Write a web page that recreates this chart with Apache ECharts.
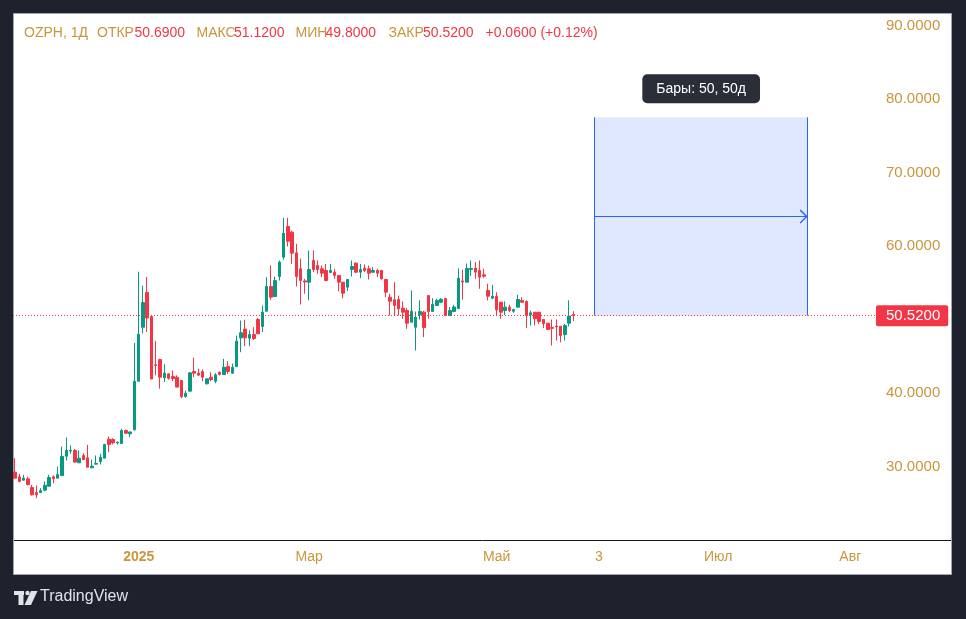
<!DOCTYPE html>
<html>

<head>
    <meta charset="UTF-8">
    <title>OZPH, 1Д</title>
    <style>
        html, body { margin: 0; padding: 0; background: #1e222d; }
        #container { width: 966px; height: 619px; }
    </style>
</head>

<body>
    <div id="container"></div>
    <script src="https://cdn.jsdelivr.net/npm/echarts@6/dist/echarts.min.js"></script>
    <script type="text/javascript">
        // дневные свечи OZPH
        var opens = [29.23, 28.6, 28.14, 28.32, 27.14, 26.46, 26.46, 26.78, 27.32, 28.59,
            28.41, 28.78, 31.4, 32.1, 32.18, 30.5, 31.5, 31.18, 29.82, 30.32,
            30.68, 31.13, 33.71, 33.67, 33.2, 33.13, 34.9, 34.45, 35.0, 41.6,
            48.95, 53.7, 50.4, 43.85, 44.55, 42.06, 42.6, 42.25, 42.15, 41.7,
            39.52, 40.25, 42.92, 42.7, 42.92, 41.25, 42.15, 41.6, 42.83, 42.52,
            43.6, 42.7, 43.6, 47.5, 48.7, 47.46, 47.96, 50.0, 49.05, 51.13,
            54.5, 53.13, 55.85, 58.48, 62.65, 61.88, 59.07, 56.9, 55.25, 55.08,
            58.03, 57.35, 56.9, 56.67, 56.4, 56.44, 56.0, 55.08, 54.4, 56.8,
            57.66, 56.44, 56.98, 56.9, 56.44, 56.67, 56.67, 55.44, 53.03, 52.68,
            52.72, 51.54, 51.22, 49.63, 48.95, 50.65, 51.0, 53.26, 51.1, 51.9,
            52.35, 52.85, 50.54, 51.1, 51.5, 55.25, 55.08, 56.8, 56.98, 56.67,
            56.08, 53.95, 52.9, 53.15, 52.35, 51.22, 51.68, 51.13, 51.68, 52.59,
            52.45, 50.64, 50.99, 50.99, 50.0, 49.5, 48.9, 49.1, 49.09, 47.96,
            49.5, 50.69];
        var closes = [28.41, 27.96, 28.41, 27.55, 26.15, 26.15, 26.73, 27.45, 28.5, 28.32,
            28.91, 31.36, 32.18, 32.2, 30.6, 31.13, 30.95, 29.91, 30.05, 30.41,
            31.27, 32.99, 32.99, 33.22, 33.3, 34.9, 34.53, 34.7, 41.6, 48.0,
            52.3, 50.2, 41.9, 43.75, 42.15, 42.7, 42.0, 41.97, 40.8, 39.5,
            39.98, 42.74, 42.7, 42.43, 42.15, 41.93, 41.84, 42.47, 42.52, 43.5,
            42.92, 43.5, 47.05, 48.2, 47.5, 47.96, 47.41, 48.05, 51.0, 54.49,
            53.04, 55.3, 57.8, 61.74, 60.65, 59.03, 55.85, 55.3, 55.1, 56.8,
            56.8, 56.8, 56.3, 55.31, 56.67, 56.0, 55.08, 53.58, 55.44, 57.21,
            56.44, 56.8, 56.67, 56.3, 56.67, 56.3, 55.53, 53.72, 52.49, 51.9,
            51.45, 50.99, 49.5, 51.13, 50.3, 51.1, 48.9, 51.1, 52.04, 52.6,
            52.75, 50.54, 51.22, 51.7, 55.62, 55.1, 56.95, 56.95, 56.44, 55.76,
            55.9, 53.17, 53.15, 51.3, 51.0, 51.68, 51.22, 51.36, 52.72, 52.35,
            50.54, 50.91, 50.1, 49.73, 49.41, 48.64, 48.8, 49.0, 47.82, 49.18,
            50.46, 50.52];
        var lows = [28.41, 27.86, 28.1, 27.41, 26.05, 25.7, 26.46, 26.64, 27.32, 27.73,
            28.41, 28.78, 30.82, 31.72, 30.5, 30.5, 30.9, 29.91, 29.82, 30.27,
            30.27, 31.13, 31.95, 33.0, 33.0, 33.13, 34.4, 34.0, 34.9, 41.6,
            48.1, 48.3, 41.9, 42.4, 40.6, 41.5, 41.8, 41.6, 40.8, 39.3,
            39.34, 40.25, 42.15, 42.38, 41.6, 41.15, 41.6, 41.33, 42.38, 42.52,
            42.6, 42.6, 43.5, 45.55, 46.4, 46.4, 47.2, 48.05, 48.3, 51.13,
            52.68, 53.13, 55.3, 58.12, 59.93, 57.57, 54.49, 52.04, 53.5, 52.6,
            56.44, 56.2, 55.76, 55.2, 56.3, 55.53, 53.85, 52.9, 53.85, 55.85,
            56.3, 55.62, 56.44, 55.44, 56.3, 55.76, 55.44, 53.03, 50.54, 50.54,
            50.54, 50.1, 48.73, 49.6, 45.78, 50.0, 47.6, 50.1, 51.1, 51.9,
            52.3, 50.5, 50.5, 51.0, 51.45, 52.7, 55.08, 55.9, 55.53, 54.17,
            55.67, 52.59, 52.75, 50.6, 50.1, 50.6, 51.0, 50.9, 51.68, 52.35,
            48.82, 49.18, 49.18, 49.41, 48.82, 48.6, 46.46, 47.14, 46.9, 47.14,
            49.05, 49.8];
        var highs = [31.13, 29.0, 28.87, 28.59, 27.5, 27.41, 27.05, 27.96, 28.87, 28.78,
            30.0, 32.72, 33.95, 32.86, 32.4, 32.18, 31.81, 32.95, 30.95, 31.5,
            31.72, 33.1, 34.08, 33.85, 33.4, 35.13, 35.0, 34.75, 46.8, 56.5,
            54.6, 55.8, 50.4, 47.1, 44.65, 43.9, 42.7, 43.06, 42.4, 41.7,
            40.34, 42.83, 44.8, 43.3, 43.2, 41.93, 42.83, 42.7, 42.92, 44.65,
            44.33, 44.0, 47.8, 49.86, 49.96, 48.5, 48.95, 50.23, 51.9, 55.76,
            57.35, 55.85, 58.03, 63.83, 63.83, 62.1, 60.3, 58.26, 55.53, 59.39,
            59.4, 58.03, 57.35, 57.57, 57.57, 56.9, 56.0, 55.1, 55.53, 58.03,
            57.8, 57.57, 57.48, 57.35, 57.12, 56.9, 56.76, 55.44, 53.5, 55.08,
            53.26, 52.45, 51.54, 53.95, 51.09, 52.6, 51.2, 53.3, 52.9, 52.8,
            52.9, 52.9, 51.7, 52.0, 56.95, 56.8, 57.6, 58.03, 57.8, 58.03,
            56.9, 54.86, 54.74, 53.7, 52.4, 52.45, 52.0, 51.45, 53.36, 53.03,
            52.59, 51.22, 51.0, 51.0, 50.0, 49.5, 50.0, 50.0, 49.1, 49.41,
            52.6, 51.12];

        var slotCount = 203; // свечи + будущие дни до конца шкалы
        var timeLabels = { 29: '2025', 69: 'Мар', 113: 'Май', 137: '3', 165: 'Июл', 196: 'Авг' };
        var priceTicks = [30, 40, 50, 60, 70, 80, 90];

        // инструмент "диапазон дат"
        var rangeStart = 136, rangeEnd = 186, rangeTop = 77.5, arrowLevel = 64;

        var gold = '#c8963c';
        var red = '#f23645';
        var green = '#089981';
        var blue = '#2962ff';
        var font = '"Liberation Sans", Arial, sans-serif';

        var slots = [];
        for (var i = 0; i < slotCount; i++) slots.push(String(i));

        var candles = opens.map(function (o, k) {
            return [o, closes[k], lows[k], highs[k]];
        });

        var n = opens.length - 1;
        var last = closes[n];
        var change = last - closes[n - 1];
        var pct = change / closes[n - 1] * 100;
        var bars = rangeEnd - rangeStart;

        // заголовок (позиции подогнаны по картинке)
        var header = [
            [24, 'OZPH, 1Д', gold],
            [97, 'ОТКР', gold], [134.5, opens[n].toFixed(4), red],
            [196.5, 'МАКС', gold], [234, highs[n].toFixed(4), red],
            [295.5, 'МИН', gold], [325.5, lows[n].toFixed(4), red],
            [388.5, 'ЗАКР', gold], [423, last.toFixed(4), red],
            [485.5, '+' + change.toFixed(4) + ' (+' + pct.toFixed(2) + '%)', red]
        ];

        var graphics = [{
            type: 'rect', z: -10, silent: true,
            shape: { x: 13.5, y: 13.5, width: 938, height: 561 },
            style: { fill: '#ffffff', stroke: '#a3a6af', lineWidth: 1 }
        }, {
            type: 'line', silent: true,
            shape: { x1: 14, y1: 540.5, x2: 951, y2: 540.5 },
            style: { stroke: '#131722', lineWidth: 1 }
        }];
        header.forEach(function (h) {
            graphics.push({
                type: 'text', left: h[0], top: 26, silent: true,
                style: { text: h[1], fill: h[2], font: '14px ' + font }
            });
        });
        // логотип TradingView
        var logo = '#e0e3eb';
        graphics.push(
            { type: 'rect', shape: { x: 14, y: 591, width: 10, height: 4 }, style: { fill: logo } },
            { type: 'rect', shape: { x: 18.5, y: 591, width: 5, height: 14 }, style: { fill: logo } },
            { type: 'circle', shape: { cx: 27.5, cy: 593, r: 2.2 }, style: { fill: logo } },
            { type: 'polygon', shape: { points: [[31, 591], [37.5, 591], [31, 605], [24.5, 605]] }, style: { fill: logo } },
            { type: 'text', left: 40, top: 589, style: { text: 'TradingView', fill: logo, font: '500 16px ' + font } }
        );

        var myChart = echarts.init(document.getElementById('container'));
        var option = {
            animation: false,
            backgroundColor: '#1e222d',
            graphic: graphics,
            grid: { left: 13, right: 88, top: 13, bottom: 79 },
            xAxis: {
                type: 'category',
                data: slots,
                boundaryGap: true,
                axisLine: { show: false },
                axisTick: { show: false },
                splitLine: { show: false },
                axisLabel: {
                    interval: function (idx) { return timeLabels[idx] !== undefined; },
                    formatter: function (v, idx) {
                        var t = timeLabels[idx] || '';
                        return t === '2025' ? '{b|' + t + '}' : t;
                    },
                    color: gold,
                    fontSize: 14,
                    fontFamily: font,
                    margin: 10,
                    rich: { b: { fontWeight: 'bold', fontSize: 14, color: gold, fontFamily: font } }
                }
            },
            yAxis: {
                type: 'value',
                position: 'right',
                min: 20,
                max: 91.7,
                interval: 10,
                axisLine: { show: false },
                axisTick: { show: false },
                splitLine: { show: false },
                axisLabel: {
                    color: gold,
                    fontSize: 15,
                    fontFamily: font,
                    margin: 8,
                    showMinLabel: false,
                    showMaxLabel: false,
                    formatter: function (v) {
                        return priceTicks.indexOf(Math.round(v)) >= 0 && Math.abs(v - Math.round(v)) < 1e-6 ? v.toFixed(4) : '';
                    }
                }
            },
            series: [{
                type: 'candlestick',
                data: candles,
                barWidth: 3,
                itemStyle: {
                    color: green,
                    color0: red,
                    borderColor: green,
                    borderColor0: red,
                    borderWidth: 1
                },
                markArea: {
                    silent: true,
                    itemStyle: { color: 'rgba(41,98,255,0.15)' },
                    data: [[{ xAxis: rangeStart, yAxis: rangeTop }, { xAxis: rangeEnd, yAxis: last }]]
                },
                markLine: {
                    silent: true,
                    symbol: 'none',
                    label: { show: false },
                    data: [
                        {
                            yAxis: last,
                            lineStyle: { color: red, type: [1, 2], width: 1 },
                            label: {
                                show: true,
                                position: 'end',
                                distance: -2,
                                formatter: last.toFixed(4),
                                color: '#ffffff',
                                backgroundColor: red,
                                fontSize: 15,
                                fontFamily: font,
                                lineHeight: 15,
                                padding: [3, 8, 3, 10],
                                borderRadius: 2
                            }
                        },
                        [{ coord: [rangeStart, rangeTop], lineStyle: { color: blue, type: 'solid', width: 1 } },
                         { coord: [rangeStart, last] }],
                        [{ coord: [rangeEnd, rangeTop], lineStyle: { color: blue, type: 'solid', width: 1 } },
                         { coord: [rangeEnd, last] }],
                        [{ coord: [rangeStart, arrowLevel], symbol: 'none', lineStyle: { color: blue, type: 'solid', width: 1 } },
                         { coord: [rangeEnd, arrowLevel], symbol: 'path://M7,0 L14,8 L12.8,9 L7,2.2 L1.2,9 L0,8 Z', symbolSize: [14, 8], symbolOffset: [0, 4] }]
                    ]
                },
                markPoint: {
                    silent: true,
                    data: [{
                        coord: [Math.round((rangeStart + rangeEnd) / 2), 81.4],
                        symbol: 'rect',
                        symbolSize: 1,
                        itemStyle: { color: 'rgba(0,0,0,0)' },
                        label: {
                            show: true,
                            position: 'inside',
                            formatter: 'Бары: ' + bars + ', ' + bars + 'д',
                            color: '#ffffff',
                            backgroundColor: '#2a2e39',
                            borderRadius: 5,
                            padding: [7, 14],
                            lineHeight: 15,
                            fontSize: 14,
                            fontFamily: font
                        }
                    }]
                }
            }]
        };
        myChart.setOption(option);
    </script>
</body>

</html>
